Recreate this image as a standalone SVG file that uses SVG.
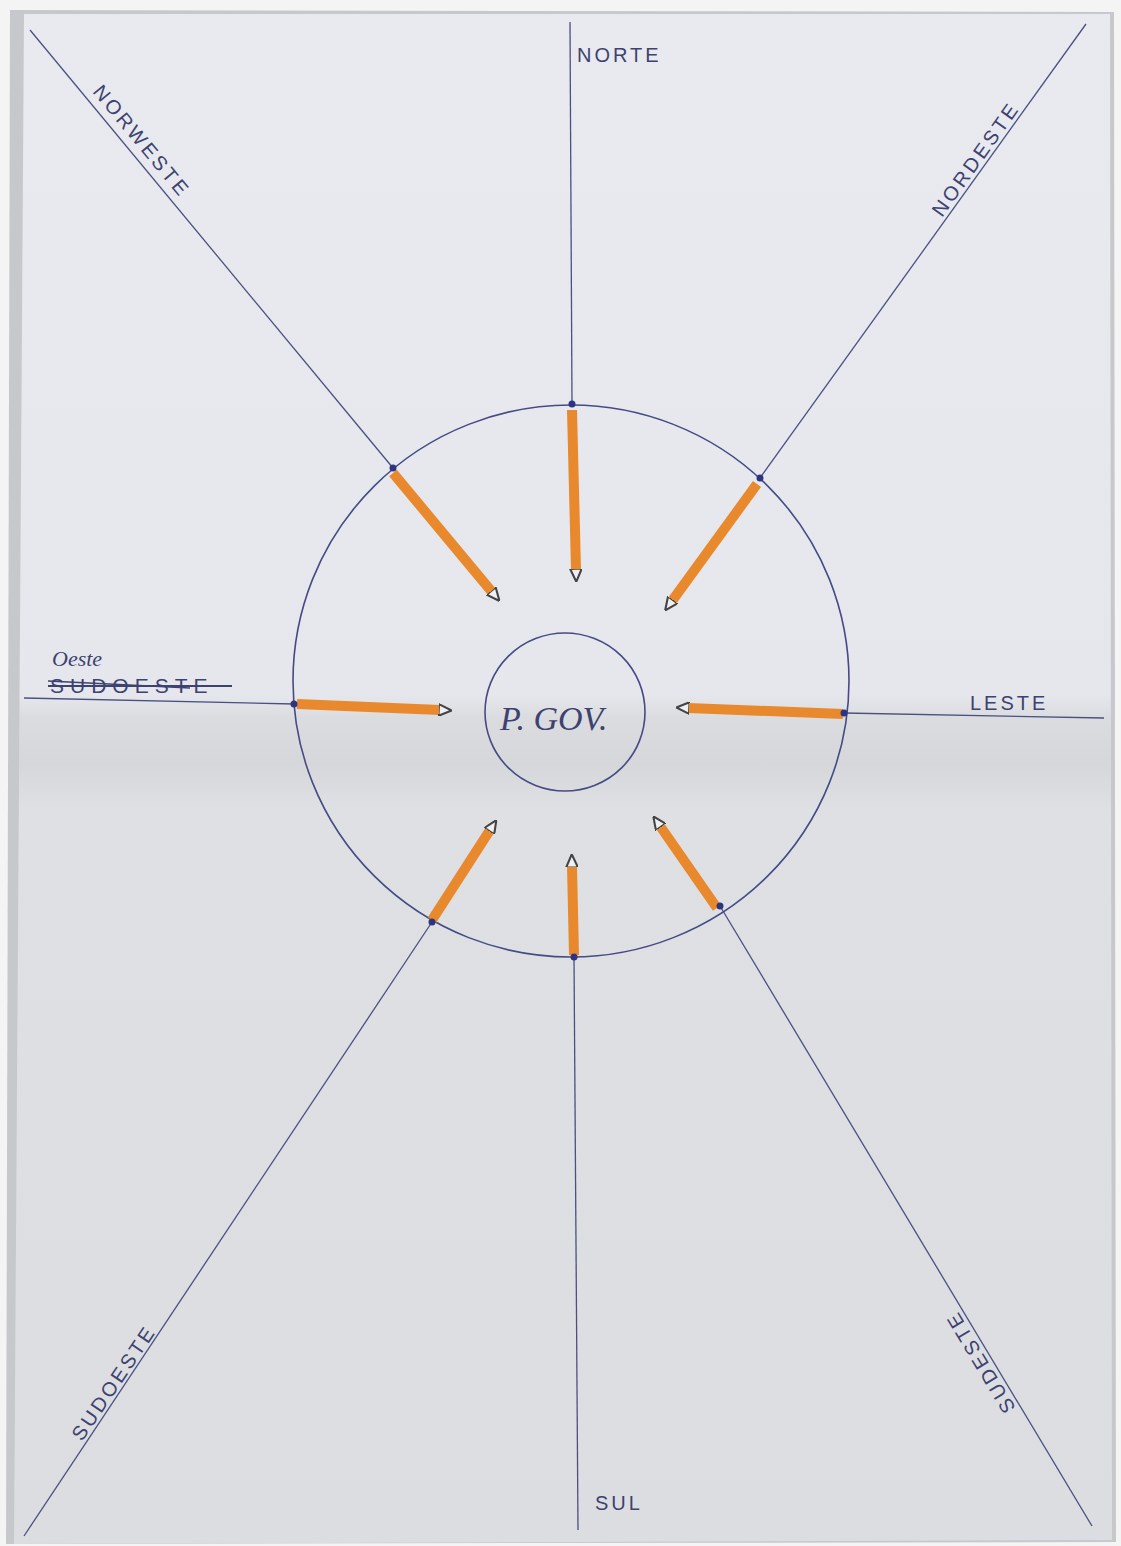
<svg xmlns="http://www.w3.org/2000/svg" width="1121" height="1546" viewBox="0 0 1121 1546">
<defs>
<style>
.ln{stroke:#4a5080;stroke-width:1.3;fill:none}
.circ{stroke:#454b85;stroke-width:1.6;fill:none}
.arr{stroke:#e8892e;stroke-width:10;stroke-linecap:butt;fill:none}
.lbl{font-family:"Liberation Sans",Arial,sans-serif;font-size:20px;fill:#3d4270;letter-spacing:3px}
.dot{fill:#2e3580}
</style>
<marker id="ah" viewBox="0 0 10 10" refX="1" refY="5" markerWidth="1.3" markerHeight="1.3" orient="auto">
<path d="M0,0.5 L10,5 L0,9.5 Z" fill="#eef0f3" stroke="#444" stroke-width="1.6"/>
</marker>
<linearGradient id="paper" x1="0" y1="0" x2="0" y2="1">
<stop offset="0" stop-color="#e9eaef"/>
<stop offset="0.445" stop-color="#e6e7ec"/>
<stop offset="0.46" stop-color="#dbdce0"/>
<stop offset="0.49" stop-color="#d6d7da"/>
<stop offset="0.52" stop-color="#dfe0e4"/>
<stop offset="1" stop-color="#dcdde1"/>
</linearGradient>
</defs>
<rect width="1121" height="1546" fill="#f4f4f4"/>
<polygon points="10,10 1114,12 1116,1542 6,1544" fill="#c6c8cb"/>
<polygon points="24,14 1110,14 1112,1540 14,1544" fill="url(#paper)"/>

<g id="connectors">
<line class="ln" x1="570" y1="22" x2="572" y2="404"/>
<line class="ln" x1="574" y1="957" x2="578" y2="1530"/>
<line class="ln" x1="24" y1="698" x2="294" y2="704"/>
<line class="ln" x1="844" y1="713" x2="1104" y2="718"/>
<line class="ln" x1="30" y1="30" x2="393" y2="468"/>
<line class="ln" x1="1086" y1="24" x2="760" y2="478"/>
<line class="ln" x1="432" y1="922" x2="24" y2="1536"/>
<line class="ln" x1="720" y1="906" x2="1092" y2="1526"/>
</g>

<g id="outer-circle">
<ellipse class="circ" cx="571" cy="681" rx="278" ry="276"/>
</g>
<g id="center">
<ellipse class="circ" cx="565" cy="712" rx="80" ry="79"/>
<text x="500" y="730" font-family="Liberation Serif,serif" font-style="italic" font-size="34" fill="#3d4270">P. GOV.</text>
</g>

<g id="arrows">
<line class="arr" x1="572" y1="410" x2="576" y2="570" marker-end="url(#ah)"/>
<line class="arr" x1="393" y1="473" x2="492" y2="592" marker-end="url(#ah)"/>
<line class="arr" x1="757" y1="484" x2="672" y2="601" marker-end="url(#ah)"/>
<line class="arr" x1="297" y1="704" x2="440" y2="710" marker-end="url(#ah)"/>
<line class="arr" x1="843" y1="714" x2="688" y2="708" marker-end="url(#ah)"/>
<line class="arr" x1="432" y1="920" x2="490" y2="830" marker-end="url(#ah)"/>
<line class="arr" x1="574" y1="955" x2="572" y2="866" marker-end="url(#ah)"/>
<line class="arr" x1="717" y1="908" x2="660" y2="826" marker-end="url(#ah)"/>
</g>

<g id="dots">
<circle class="dot" cx="572" cy="404" r="3.5"/>
<circle class="dot" cx="393" cy="468" r="3.5"/>
<circle class="dot" cx="760" cy="478" r="3.5"/>
<circle class="dot" cx="294" cy="704" r="3.5"/>
<circle class="dot" cx="844" cy="713" r="3.5"/>
<circle class="dot" cx="432" cy="922" r="3.5"/>
<circle class="dot" cx="574" cy="957" r="3.5"/>
<circle class="dot" cx="720" cy="906" r="3.5"/>
</g>

<g id="label-norte"><text class="lbl" x="577" y="62">NORTE</text></g>
<g id="label-noroeste"><text class="lbl" transform="translate(92,92) rotate(50.3)">NORWESTE</text></g>
<g id="label-nordeste"><text class="lbl" transform="translate(942,218) rotate(-54.5)">NORDESTE</text></g>
<g id="label-oeste">
<text x="52" y="666" font-family="Liberation Serif,serif" font-style="italic" font-size="22" fill="#3d4270">Oeste</text>
<text class="lbl" x="50" y="693" style="font-size:21px;letter-spacing:6px">SUDOESTE</text>
<line x1="48" y1="686" x2="232" y2="686" stroke="#3d4270" stroke-width="2"/>
<line x1="48" y1="681" x2="190" y2="688" stroke="#3d4270" stroke-width="1.5"/>
</g>
<g id="label-leste"><text class="lbl" x="970" y="710">LESTE</text></g>
<g id="label-sudoeste"><text class="lbl" transform="translate(82,1442) rotate(-56)">SUDOESTE</text></g>
<g id="label-sudeste"><text class="lbl" transform="translate(1016,1408) rotate(-121)">SUDESTE</text></g>
<g id="label-sul"><text class="lbl" x="595" y="1510">SUL</text></g>
</svg>
